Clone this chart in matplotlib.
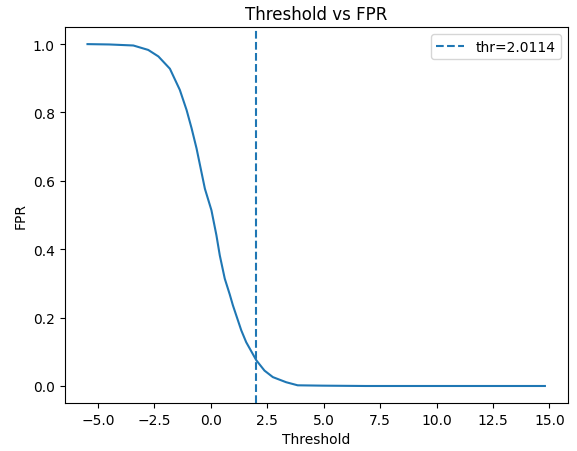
import matplotlib
matplotlib.use("Agg")
import matplotlib.pyplot as plt

# threshold / fpr pairs
thresholds = [-5.46, -4.5, -3.43, -2.77, -2.32, -1.81, -1.37, -1.07, -0.85,
              -0.63, -0.26, 0.03, 0.25, 0.40, 0.62, 0.84, 0.98, 1.35, 1.57,
              2.02, 2.38, 2.75, 3.34, 3.85, 4.95, 6.87, 10.0, 14.8]
fpr = [1.0, 0.999, 0.996, 0.983, 0.964, 0.928, 0.866, 0.807, 0.754,
       0.695, 0.577, 0.514, 0.441, 0.382, 0.314, 0.268, 0.236, 0.163, 0.128,
       0.075, 0.045, 0.026, 0.011, 0.002, 0.001, 0.0, 0.0, 0.0]
thr = 2.0114

fig, ax = plt.subplots(figsize=(5.77, 4.52), dpi=100)
ax.plot(thresholds, fpr)
ax.axvline(thr, linestyle='--', label=f"thr={thr:.4f}")
ax.set_xlabel("Threshold")
ax.set_ylabel("FPR")
ax.set_title("Threshold vs FPR")
ax.legend()
fig.subplots_adjust(left=0.112, right=0.984, top=0.938, bottom=0.106)
fig.savefig("out.png")
